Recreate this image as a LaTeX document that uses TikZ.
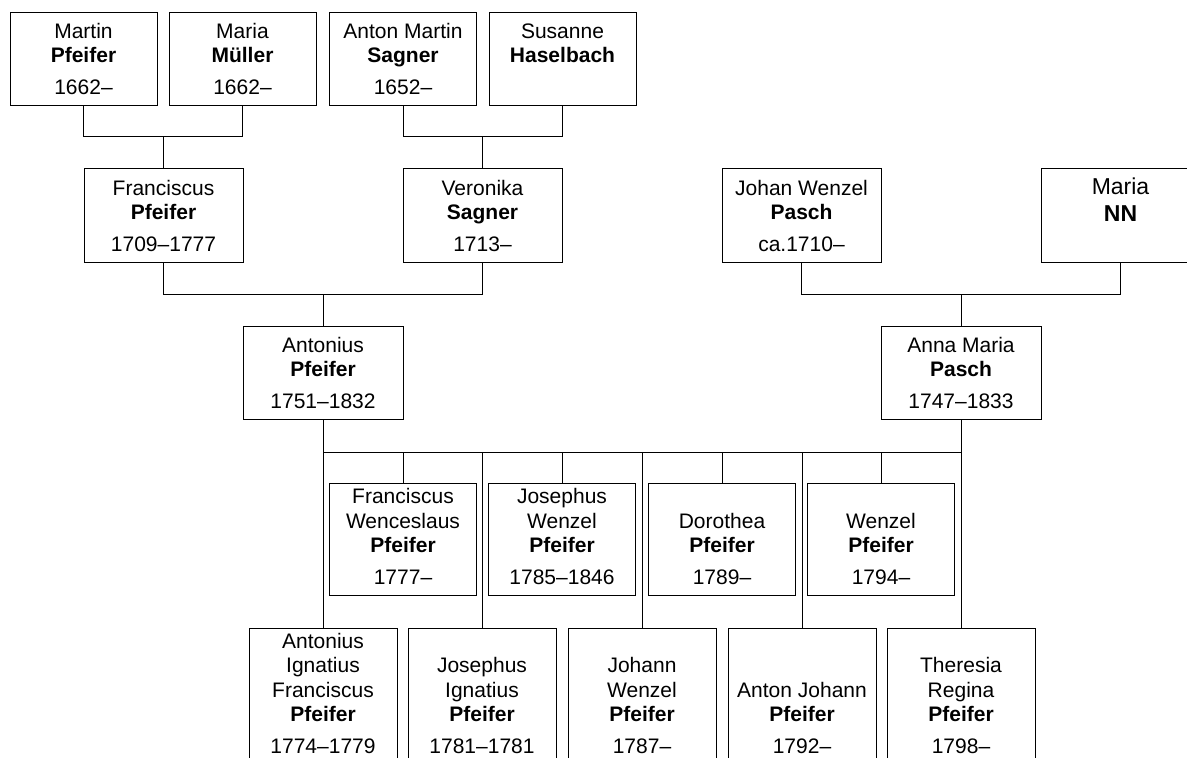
\documentclass[tikz,border=0pt]{standalone}
\usepackage{fontspec}
\setmainfont{Liberation Sans}
\usetikzlibrary{
  calc,         % Calculations $...$
}
% \person[text options]{name}{box style}{position}{first names}{surname}{years}
\newcommand{\person}[7][]{%
  \node[#3] (#2) at (#4) {};
  \node[txt,#1] (#2 txt) at ([yshift=5.25pt]#2.south) {#5\\\textbf{#6}\\[3.5pt]#7\vphantom{0}};
}
\tikzset{
  font=\fontsize{10.5}{12.25}\selectfont,
  line width=1.2pt,
  x=0.5pt,
  y=-0.5pt,
  box/.style={
    draw,
    inner sep=0pt,
    rectangle
  },
  gen1/.style={box, minimum width=73.5pt, minimum height=46.5pt},
  gen2/.style={box, minimum width=79.5pt, minimum height=47pt},
  gen3/.style={box, minimum width=80pt,   minimum height=46.5pt},
  gen4/.style={box, minimum width=73.5pt, minimum height=56pt},
  gen5/.style={box, minimum width=74pt,   minimum height=68pt},
  txt/.style={
    anchor=south,
    inner sep=0pt,
    align=center
  },
  big/.style={font=\fontsize{11.5}{13.5}\selectfont, yshift=-2pt}
}
\begin{document}
\begin{tikzpicture}
\useasboundingbox (0,0) rectangle (1187,758);
\clip (0,0) rectangle (1187,758);
% grandparents' parents
\person{martin}{gen1}{83.5,58.5}{Martin}{Pfeifer}{1662--}
\person{mariam}{gen1}{242.5,58.5}{Maria}{Müller}{1662--}
\person{anton}{gen1}{403,58.5}{Anton Martin}{Sagner}{1652--}
\person{susanne}{gen1}{562.5,58.5}{Susanne}{Haselbach}{}
% grandparents
\person{franz}{gen2}{163.5,215}{Franciscus}{Pfeifer}{1709--1777}
\person{veronika}{gen2}{482.5,215}{Veronika}{Sagner}{1713--}
\person{johan}{gen2}{801.5,215}{Johan Wenzel}{Pasch}{ca.1710--}
\person[big]{marianm}{gen2}{1120.5,215}{Maria}{NN}{}
% parents
\person{antonius}{gen3}{323,372.5}{Antonius}{Pfeifer}{1751--1832}
\person{annamaria}{gen3}{961,372.5}{Anna Maria}{Pasch}{1747--1833}
% children
\person{fw}{gen4}{403,539}{Franciscus\\Wenceslaus}{Pfeifer}{1777--}
\person{jw}{gen4}{562,539}{Josephus\\Wenzel}{Pfeifer}{1785--1846}
\person{dorothea}{gen4}{722,539}{Dorothea}{Pfeifer}{1789--}
\person{wenzel}{gen4}{881,539}{Wenzel}{Pfeifer}{1794--}
\person{ai}{gen5}{323,696}{Antonius\\Ignatius\\Franciscus}{Pfeifer}{1774--1779}
\person{ji}{gen5}{482,696}{Josephus\\Ignatius}{Pfeifer}{1781--1781}
\person{jow}{gen5}{642,696}{Johann\\Wenzel}{Pfeifer}{1787--}
\person{aj}{gen5}{802,696}{Anton Johann}{Pfeifer}{1792--}
\person{theresia}{gen5}{961,696}{Theresia\\Regina}{Pfeifer}{1798--}
% couples
\coordinate (m1) at ($(martin.south)!.5!(mariam.south)+(0,31)$);
\coordinate (m2) at ($(anton.south)!.5!(susanne.south)+(0,31)$);
\coordinate (m3) at ($(franz.south)!.5!(veronika.south)+(0,32)$);
\coordinate (m4) at ($(johan.south)!.5!(marianm.south)+(0,32)$);
\draw (martin.south) |- (m1) -| (mariam.south);
\draw (anton.south) |- (m2) -| (susanne.south);
\draw (franz.south) |- (m3) -| (veronika.south);
\draw (johan.south) |- (m4) -| (marianm.south);
\draw (m1) -- (m1 |- franz.north);
\draw (m2) -- (m2 |- veronika.north);
\draw (m3) -- (m3 |- antonius.north);
\draw (m4) -- (m4 |- annamaria.north);
% children bar
\coordinate (fam) at ($(antonius.south)+(0,33)$);
\draw (antonius.south) -- (ai.north);
\draw (annamaria.south) -- (theresia.north);
\draw (fam) -- (fam -| annamaria.south);
\foreach \k in {fw,jw,dorothea,wenzel,ji,jow,aj}
  \draw (fam -| \k.north) -- (\k.north);
\end{tikzpicture}
\end{document}
